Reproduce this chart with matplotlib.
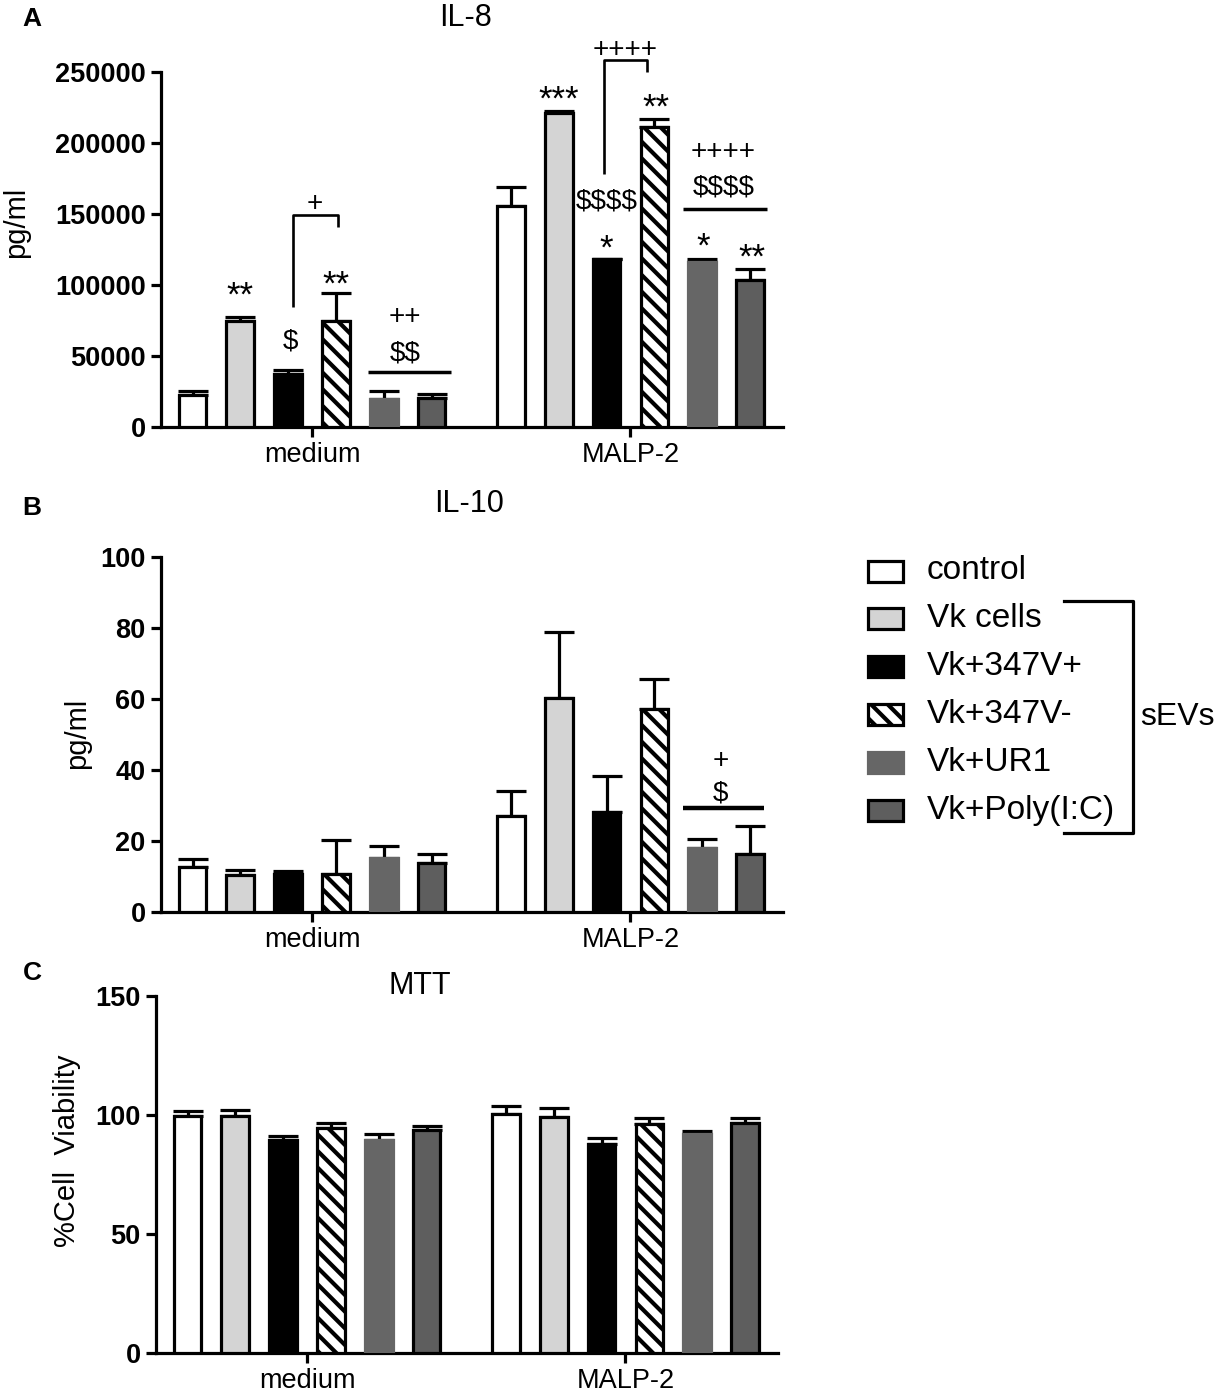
import matplotlib
matplotlib.use('Agg')
import matplotlib.pyplot as plt
import numpy as np
from matplotlib.patches import Rectangle
from matplotlib.lines import Line2D

#%% Data
groups = ['medium', 'MALP-2']
treatments = ['control', 'Vk cells', 'Vk+347V+', 'Vk+347V-', 'Vk+UR1', 'Vk+Poly(I:C)']

# 12 bars per panel: the 6 treatments for medium, then the 6 for MALP-2
il8_mean = [22300, 74400, 37600, 74400, 20000, 20400,
            155600, 221100, 118300, 211400, 116400, 103500]
il8_top = [25400, 77500, 40400, 94400, 25400, 23000,
           169000, 222700, 118300, 216900, 118300, 111300]

il10_mean = [12.8, 10.5, 10.8, 10.8, 15.2, 13.8,
             27.1, 60.2, 28.1, 57.1, 18.0, 16.3]
il10_top = [14.9, 11.7, 11.6, 20.3, 18.5, 16.3,
            34.2, 78.9, 38.3, 65.5, 20.5, 24.1]

mtt_mean = [99.7, 99.7, 89.3, 94.6, 89.7, 93.7,
            100.4, 99.3, 87.9, 96.1, 92.0, 96.8]
mtt_top = [101.8, 102.1, 91.3, 96.8, 92.0, 95.5,
           103.8, 102.8, 90.3, 98.7, 93.2, 98.9]

il8_ticks = [0, 50000, 100000, 150000, 200000, 250000]
il10_ticks = [0, 20, 40, 60, 80, 100]
mtt_ticks = [0, 50, 100, 150]

#%% Style
W, H = 1217, 1392
plt.rcParams['font.family'] = ['Liberation Sans', 'DejaVu Sans']
plt.rcParams['hatch.linewidth'] = 3.0

faces = ['white', '#d4d4d4', 'black', 'white', '#666666', '#5e5e5e']
edges = ['black', 'black', 'black', 'black', '#666666', 'black']
hatches = [None, None, None, '\\\\', None, None]

pos = np.concatenate([np.arange(6), np.arange(6) + 6.66])
group_pos = [2.5, 9.16]
LW = 2.3

fig = plt.figure(figsize=(W / 100, H / 100), dpi=100)


def px_axes(left, top, right, bottom):
    return fig.add_axes([left / W, 1 - bottom / H, (right - left) / W, (bottom - top) / H])


def bar_panel(ax, mean, top, ticks, ylabel, lab_xy):
    for i in range(12):
        k = i % 6
        ax.bar(pos[i], mean[i], width=0.58, color=faces[k], edgecolor=edges[k],
               linewidth=LW, hatch=hatches[k], zorder=3)
    mean = np.array(mean)
    top = np.array(top)
    ax.errorbar(pos, mean, yerr=[np.zeros(12), top - mean], fmt='none', ecolor='black',
                elinewidth=LW, capsize=11, capthick=LW, zorder=2)
    ax.set_xlim(-0.66, 12.35)
    ax.set_ylim(0, ticks[-1])
    ax.set_yticks(ticks)
    ax.set_yticklabels([str(t) for t in ticks], fontsize=19.5, fontweight='bold')
    ax.set_xticks(group_pos)
    ax.set_xticklabels(groups, fontsize=19.5)
    for s in ['top', 'right']:
        ax.spines[s].set_visible(False)
    for s in ['left', 'bottom']:
        ax.spines[s].set_linewidth(LW)
    ax.tick_params(axis='both', length=7.5, width=LW, pad=3.5)
    ax.text(lab_xy[0], lab_xy[1], ylabel, transform=ax.transAxes, rotation=90,
            ha='center', va='center', fontsize=lab_xy[2])


def note(ax, x, y, s, size=20):
    ax.text(x, y, s, ha='center', va='center', fontsize=size, clip_on=False, zorder=5,
            parse_math=False)


def line(ax, xs, ys, lw=1.9):
    ax.plot(xs, ys, color='black', lw=lw, clip_on=False, solid_capstyle='butt', zorder=5)


#%% A: IL-8
axA = px_axes(161, 72, 783, 427)
bar_panel(axA, il8_mean, il8_top, il8_ticks, 'pg/ml', (-0.233, 0.577, 21))
axA.text(0.49, 1.151, 'IL-8', transform=axA.transAxes, ha='center', va='center', fontsize=22)
# medium
note(axA, 1.0, 92500, '**', 25)
note(axA, 2.05, 60000, '$')
note(axA, 3.0, 99800, '**', 25)
line(axA, [2.1, 2.1, 3.05, 3.05], [84500, 149000, 149000, 140800])
note(axA, 2.55, 157300, '+')
note(axA, 4.45, 77500, '++')
note(axA, 4.45, 51600, '$$')
line(axA, [3.67, 5.4], [38700, 38700], lw=2.5)
# MALP-2
note(axA, 7.66, 230300, '***', 25)
note(axA, 9.7, 224700, '**', 25)
note(axA, 8.66, 125400, '*', 25)
note(axA, 10.68, 126800, '*', 25)
note(axA, 11.7, 119000, '**', 25)
note(axA, 8.67, 159000, '$$$$')
line(axA, [8.6, 8.6, 9.5, 9.5], [178000, 258500, 258500, 250000])
note(axA, 9.05, 265500, '++++')
note(axA, 11.1, 193700, '++++')
note(axA, 11.1, 168700, '$$$$')
line(axA, [10.26, 12.02], [153500, 153500], lw=2.5)

#%% B: IL-10
axB = px_axes(161, 557, 783, 912)
bar_panel(axB, il10_mean, il10_top, il10_ticks, 'pg/ml', (-0.135, 0.503, 21))
axB.text(0.495, 1.149, 'IL-10', transform=axB.transAxes, ha='center', va='center', fontsize=22)
note(axB, 11.05, 42.5, '+')
note(axB, 11.05, 33.5, '$')
line(axB, [10.26, 11.95], [29.4, 29.4], lw=3.2)

#%% C: MTT
axC = px_axes(156, 996, 778, 1353)
bar_panel(axC, mtt_mean, mtt_top, mtt_ticks, '%Cell  Viability', (-0.143, 0.566, 21))
axC.text(0.424, 1.028, 'MTT', transform=axC.transAxes, ha='center', va='center', fontsize=22)

#%% panel letters
for lab, (x, y) in zip(['A', 'B', 'C'], [(32, 19), (32, 508), (32, 973)]):
    fig.text(x / W, 1 - y / H, lab, ha='center', va='center', fontsize=19, fontweight='bold')

#%% legend (drawn by hand, GraphPad style)
for i, name in enumerate(treatments):
    yc = 571 + 47.9 * i
    fig.add_artist(Rectangle((868 / W, 1 - (yc + 10.5) / H), 35 / W, 21 / H,
                             transform=fig.transFigure, facecolor=faces[i],
                             edgecolor=edges[i], linewidth=LW, hatch=hatches[i]))
    fig.text(927 / W, 1 - yc / H, name, ha='left', va='center', fontsize=24)

bx = [1064 / W, 1133 / W, 1133 / W, 1064 / W]
by = [1 - 601 / H, 1 - 601 / H, 1 - 833 / H, 1 - 833 / H]
fig.add_artist(Line2D(bx, by, transform=fig.transFigure, color='black', lw=LW))
fig.text(1140 / W, 1 - 717 / H, 'sEVs', ha='left', va='center', fontsize=23)

fig.savefig('out.png', dpi=100)
